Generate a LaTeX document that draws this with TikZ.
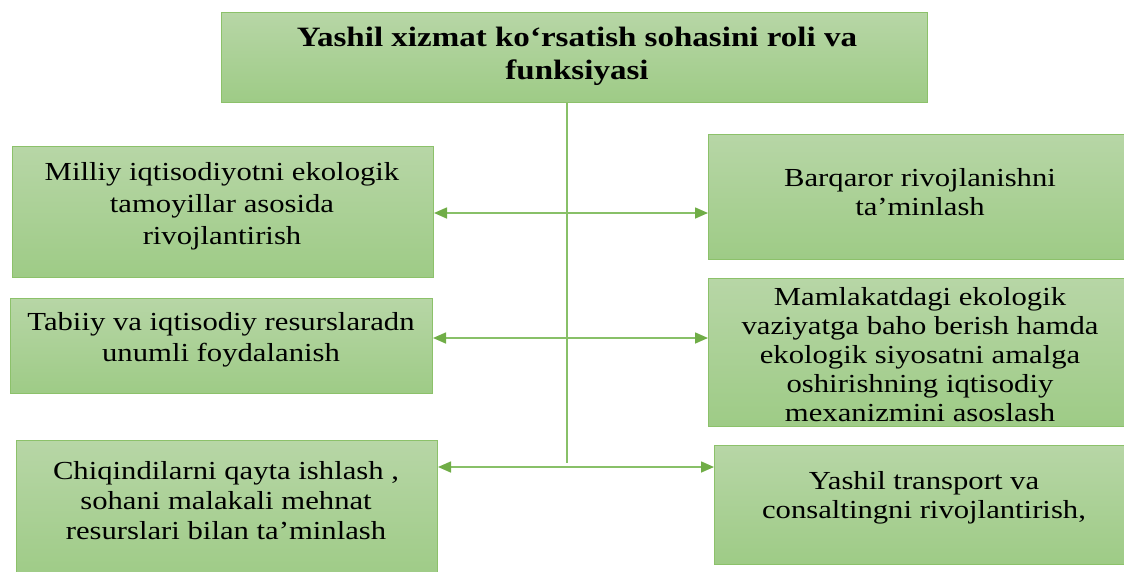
\documentclass[tikz,border=0pt]{standalone}
\usepackage{fontspec}
\setmainfont{Liberation Serif}
\newfontfamily\wfont{Liberation Serif}[FakeStretch=1.18]
\usetikzlibrary{arrows.meta}
\definecolor{gtop}{RGB}{183,214,166}
\definecolor{gbot}{RGB}{158,203,134}
\definecolor{gborder}{RGB}{140,193,106}
\definecolor{gline}{RGB}{136,192,104}
\definecolor{garrow}{RGB}{112,173,71}
\begin{document}
\begin{tikzpicture}[x=1pt,y=-1pt,
  box/.style={draw=gborder, line width=1pt, top color=gtop, bottom color=gbot,
    rectangle, inner sep=0pt, anchor=north west},
  txt/.style={align=center, inner sep=0pt, anchor=north, text=black,
    font=\wfont\fontsize{26}{#1}\selectfont},
  txt/.default=30,
  ttl/.style={align=center, inner sep=0pt, anchor=north, text=black,
    font=\wfont\bfseries\fontsize{28}{33}\selectfont},
  conn/.style={draw=gline, line width=1.6pt,
    {Triangle[length=13pt,width=11pt,fill=garrow,color=garrow]}-{Triangle[length=13pt,width=11pt,fill=garrow,color=garrow]}},
  vline/.style={draw=gline, line width=1.2pt}]
\useasboundingbox (0,0) rectangle (1124,571);
% boxes
\node[box, minimum width=706pt, minimum height=90pt] (title) at (221,12) {};
\node[box, minimum width=421pt, minimum height=131pt] (l1) at (12,146) {};
\node[box, minimum width=422pt, minimum height=95pt] (l2) at (10,298) {};
\node[box, minimum width=421pt, minimum height=140pt] (l3) at (16,440) {};
\node[box, minimum width=424pt, minimum height=125pt] (r1) at (708,134) {};
\node[box, minimum width=424pt, minimum height=148pt] (r2) at (708,278) {};
\node[box, minimum width=418pt, minimum height=119pt] (r3) at (714,445) {};
% texts
\node[ttl] (tt) at (577,27) {Yashil xizmat ko‘rsatish sohasini roli va\\funksiyasi};
\node[txt=32] (l1t) at (222,162) {Milliy iqtisodiyotni ekologik\\tamoyillar asosida\\rivojlantirish};
\node[txt=31] (l2t) at (221,312) {Tabiiy va iqtisodiy resurslaradn\\unumli foydalanish};
\node[txt=30] (l3t) at (226,461) {Chiqindilarni qayta ishlash ,\\sohani malakali mehnat\\resurslari bilan ta’minlash};
\node[txt=29] (r1t) at (920,168) {Barqaror rivojlanishni\\ta’minlash};
\node[txt=29] (r2t) at (920,287) {Mamlakatdagi ekologik\\vaziyatga baho berish hamda\\ekologik siyosatni amalga\\oshirishning iqtisodiy\\mexanizmini asoslash};
\node[txt=29] (r3t) at (924,471) {Yashil transport va\\consaltingni rivojlantirish,};
% connectors
\coordinate (j1) at (567,213);
\coordinate (j2) at (567,338);
\coordinate (j3) at (567,467);
\coordinate (vend) at (567,463);
\draw[vline] (title.south -| vend) -- (vend);
\draw[conn] (l1.east |- j1) -- (r1.west |- j1);
\draw[conn] (l2.east |- j2) -- (r2.west |- j2);
\draw[conn] (l3.east |- j3) -- (r3.west |- j3);
\end{tikzpicture}
\end{document}
